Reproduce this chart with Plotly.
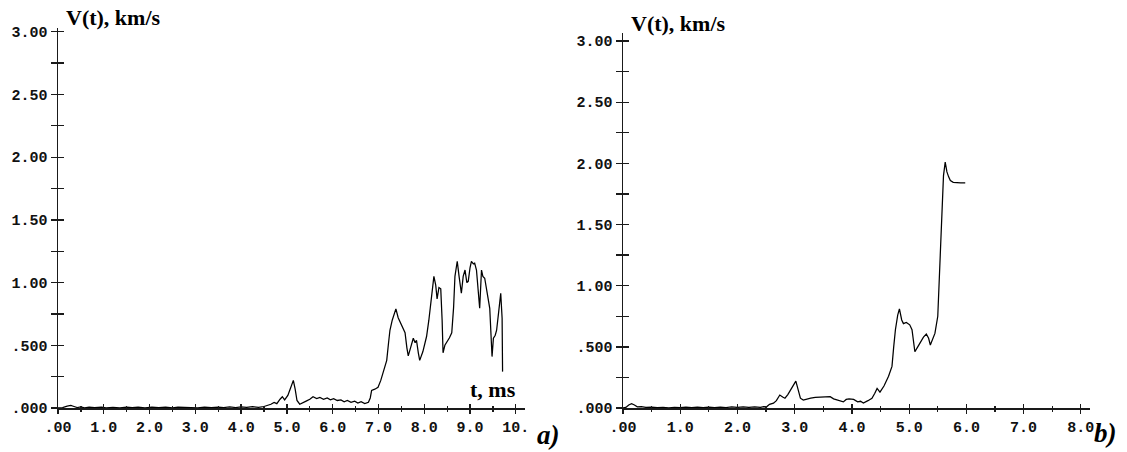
import plotly.graph_objects as go

# Panel a): velocity history V(t), t in ms, V in km/s
t_a = [0.00, 0.10, 0.20, 0.28, 0.35, 0.42, 0.50, 0.58, 0.68, 0.80,
       0.95, 1.05, 1.20, 1.35, 1.50, 1.62, 1.75, 1.90, 2.05, 2.20,
       2.35, 2.50, 2.62, 2.78, 2.90, 3.05, 3.20, 3.35, 3.50, 3.62,
       3.75, 3.88, 4.00, 4.12, 4.25, 4.38, 4.50, 4.58, 4.65, 4.72,
       4.78, 4.85, 4.90, 4.95, 5.02, 5.08, 5.14, 5.18, 5.22, 5.28,
       5.35, 5.42, 5.50, 5.57, 5.65, 5.72, 5.80, 5.88, 5.95, 6.02,
       6.10, 6.18, 6.25, 6.32, 6.40, 6.48, 6.55, 6.62, 6.70, 6.78,
       6.82, 6.85, 6.92, 6.99, 7.05, 7.12, 7.18, 7.22, 7.25, 7.30,
       7.38, 7.43, 7.48, 7.54, 7.58, 7.62, 7.65, 7.70, 7.76, 7.80,
       7.83, 7.87, 7.90, 7.97, 8.05, 8.10, 8.16, 8.21, 8.25, 8.28,
       8.32, 8.36, 8.39, 8.41, 8.45, 8.49, 8.55, 8.60, 8.64, 8.67,
       8.72, 8.76, 8.79, 8.81, 8.85, 8.89, 8.93, 8.96, 9.00, 9.03,
       9.07, 9.10, 9.14, 9.18, 9.21, 9.25, 9.28, 9.32, 9.36, 9.40,
       9.43, 9.48, 9.51, 9.55, 9.58, 9.62, 9.67, 9.70, 9.71]
v_a = [0.000, 0.003, 0.015, 0.020, 0.012, 0.004, 0.008, 0.002, 0.007, 0.003,
       0.006, 0.002, 0.005, 0.002, 0.007, 0.003, 0.006, 0.002, 0.006, 0.003,
       0.007, 0.002, 0.006, 0.003, 0.006, 0.002, 0.007, 0.003, 0.006, 0.004,
       0.008, 0.004, 0.008, 0.005, 0.010, 0.006, 0.012, 0.020, 0.030, 0.045,
       0.035, 0.070, 0.090, 0.065, 0.100, 0.160, 0.220, 0.150, 0.060, 0.030,
       0.040, 0.055, 0.070, 0.090, 0.075, 0.085, 0.070, 0.080, 0.065, 0.075,
       0.060, 0.065, 0.050, 0.060, 0.045, 0.055, 0.040, 0.050, 0.035, 0.045,
       0.080, 0.140, 0.150, 0.165, 0.220, 0.300, 0.380, 0.520, 0.620, 0.700,
       0.790, 0.720, 0.680, 0.640, 0.600, 0.480, 0.415, 0.480, 0.556, 0.520,
       0.540, 0.440, 0.380, 0.450, 0.570, 0.700, 0.890, 1.050, 0.980, 0.870,
       0.960, 0.950, 0.700, 0.440, 0.500, 0.520, 0.560, 0.600, 0.800, 1.050,
       1.170, 1.050, 0.960, 0.915, 1.050, 1.100, 1.000, 1.010, 1.120, 1.170,
       1.150, 1.155, 1.100, 0.950, 0.795, 1.100, 1.050, 1.035, 0.950, 0.850,
       0.795, 0.410, 0.556, 0.580, 0.620, 0.750, 0.915, 0.716, 0.290]

# Panel b)
t_b = [0.00, 0.05, 0.10, 0.15, 0.20, 0.25, 0.32, 0.40, 0.50, 0.60,
       0.70, 0.80, 0.90, 1.00, 1.10, 1.20, 1.30, 1.40, 1.50, 1.60,
       1.70, 1.80, 1.90, 2.00, 2.10, 2.20, 2.30, 2.40, 2.46, 2.51,
       2.56, 2.63, 2.68, 2.74, 2.79, 2.83, 2.88, 2.95, 3.02, 3.06,
       3.10, 3.15, 3.22, 3.28, 3.36, 3.45, 3.55, 3.62, 3.68, 3.75,
       3.80, 3.85, 3.90, 3.95, 4.03, 4.10, 4.15, 4.20, 4.28, 4.35,
       4.40, 4.44, 4.49, 4.56, 4.64, 4.70, 4.73, 4.76, 4.80, 4.83,
       4.87, 4.90, 4.95, 5.01, 5.05, 5.08, 5.10, 5.15, 5.19, 5.25,
       5.30, 5.34, 5.37, 5.42, 5.45, 5.50, 5.53, 5.57, 5.60, 5.63,
       5.66, 5.69, 5.72, 5.77, 5.83, 5.90, 5.98]
v_b = [0.000, 0.005, 0.025, 0.035, 0.025, 0.010, 0.012, 0.005, 0.008, 0.003,
       0.006, 0.002, 0.006, 0.003, 0.007, 0.003, 0.007, 0.004, 0.008, 0.004,
       0.008, 0.004, 0.009, 0.005, 0.009, 0.005, 0.010, 0.006, 0.012, 0.010,
       0.030, 0.040, 0.060, 0.106, 0.090, 0.080, 0.110, 0.160, 0.220, 0.150,
       0.080, 0.065, 0.070, 0.080, 0.087, 0.090, 0.092, 0.093, 0.075, 0.065,
       0.060, 0.050, 0.070, 0.075, 0.070, 0.050, 0.055, 0.040, 0.060, 0.080,
       0.120, 0.160, 0.130, 0.180, 0.260, 0.340, 0.500, 0.640, 0.760, 0.810,
       0.720, 0.690, 0.700, 0.680, 0.640, 0.520, 0.460, 0.500, 0.530, 0.580,
       0.605, 0.570, 0.515, 0.580, 0.610, 0.750, 1.130, 1.670, 1.900, 2.010,
       1.930, 1.890, 1.860, 1.845, 1.840, 1.840, 1.840]

# Axis ticks and labels
y_ticks = [0.0, 0.25, 0.5, 0.75, 1.0, 1.25, 1.5, 1.75, 2.0, 2.25, 2.5, 2.75, 3.0]
y_labels = [".000", "", ".500", "", "1.00", "", "1.50", "", "2.00", "", "2.50", "", "3.00"]
x_ticks_a = [0, 1, 2, 3, 4, 5, 6, 7, 8, 9, 10]
x_labels_a = [".00", "1.0", "2.0", "3.0", "4.0", "5.0", "6.0", "7.0", "8.0", "9.0", "10."]
x_ticks_b = [0, 1, 2, 3, 4, 5, 6, 7, 8]
x_labels_b = [".00", "1.0", "2.0", "3.0", "4.0", "5.0", "6.0", "7.0", "8.0"]

W, H = 1127, 452
INK = "#1a1a1a"
tick_font = dict(family="Liberation Mono", size=15, color="#111111", weight="bold")
serif_b = dict(family="Liberation Serif", size=22, color="#000000")
label_font = dict(family="Liberation Serif", size=27, color="#000000")

fig = go.Figure()
fig.add_trace(go.Scatter(x=t_a, y=v_a, mode="lines", xaxis="x", yaxis="y",
                         line=dict(color="#000000", width=1.25), showlegend=False,
                         hoverinfo="skip"))
fig.add_trace(go.Scatter(x=t_b, y=v_b, mode="lines", xaxis="x2", yaxis="y2",
                         line=dict(color="#000000", width=1.25), showlegend=False,
                         hoverinfo="skip"))
# single-point traces (draw nothing) so the overlay axes carrying the inner
# half of the cross-shaped ticks get their own subplot
fig.add_trace(go.Scatter(x=t_a[:1], y=v_a[:1], mode="lines", xaxis="x3", yaxis="y3",
                         showlegend=False, hoverinfo="skip"))
fig.add_trace(go.Scatter(x=t_b[:1], y=v_b[:1], mode="lines", xaxis="x4", yaxis="y4",
                         showlegend=False, hoverinfo="skip"))


def px_x(p):
    return p / W


def px_y(p):
    return 1 - p / H


# panel geometry (pixels): a) x 58..525, y 28..408 ; b) x 623..1090, y 33..408
xa_dom = [px_x(58), px_x(525)]
ya_dom = [px_y(408), px_y(28)]
xb_dom = [px_x(623), px_x(1090)]
yb_dom = [px_y(408), px_y(33)]
xa_rng = [0, 10.2]
ya_rng = [0, 3.03]
xb_rng = [0, 8.16]
yb_rng = [0, 3.066]


def xaxis(dom, rng, anchor, vals, labels, side, overlay=None):
    d = dict(domain=dom, range=rng, anchor=anchor, showgrid=False, zeroline=False,
             showline=True, linecolor=INK, linewidth=1.5, automargin=False,
             tickmode="array", tickvals=vals, ticktext=labels,
             ticks=side, ticklen=4, tickwidth=1.3, tickcolor=INK,
             minor=dict(dtick=0.5, tick0=0, ticks=side, ticklen=2, tickwidth=1.3,
                        tickcolor=INK, showgrid=False),
             tickfont=tick_font, fixedrange=True)
    if overlay:
        d.update(overlaying=overlay, showticklabels=False)
    return d


def yaxis(dom, rng, anchor, side, overlay=None):
    d = dict(domain=dom, range=rng, anchor=anchor, showgrid=False, zeroline=False,
             showline=True, linecolor=INK, linewidth=1.5, automargin=False,
             tickmode="array", tickvals=y_ticks, ticktext=y_labels,
             ticks=side, ticklen=6, tickwidth=1.3, tickcolor=INK,
             tickfont=tick_font, fixedrange=True)
    if overlay:
        d.update(overlaying=overlay, showticklabels=False)
    return d


fig.update_layout(
    width=W, height=H,
    margin=dict(l=0, r=0, t=0, b=0, autoexpand=False),
    paper_bgcolor="white", plot_bgcolor="rgba(0,0,0,0)",
    xaxis=xaxis(xa_dom, xa_rng, "y", x_ticks_a, x_labels_a, "outside"),
    yaxis=yaxis(ya_dom, ya_rng, "x", "outside"),
    xaxis2=xaxis(xb_dom, xb_rng, "y2", x_ticks_b, x_labels_b, "outside"),
    yaxis2=yaxis(yb_dom, yb_rng, "x2", "outside"),
    xaxis3=xaxis(xa_dom, xa_rng, "y", x_ticks_a, x_labels_a, "inside", overlay="x"),
    yaxis3=yaxis(ya_dom, ya_rng, "x", "inside", overlay="y"),
    xaxis4=xaxis(xb_dom, xb_rng, "y2", x_ticks_b, x_labels_b, "inside", overlay="x2"),
    yaxis4=yaxis(yb_dom, yb_rng, "x2", "inside", overlay="y2"),
)

annotations = [
    dict(text="<b>V(t), km/s</b>", x=px_x(64), y=px_y(17), xanchor="left", yanchor="middle",
         font=serif_b),
    dict(text="<b>V(t), km/s</b>", x=px_x(629), y=px_y(23), xanchor="left", yanchor="middle",
         font=serif_b),
    dict(text="<b>t, ms</b>", x=px_x(518), y=px_y(389), xanchor="right", yanchor="middle",
         font=serif_b),
    dict(text="<b><i>a)</i></b>", x=px_x(535), y=px_y(435), xanchor="left", yanchor="middle",
         font=label_font),
    dict(text="<b><i>b)</i></b>", x=px_x(1092), y=px_y(433), xanchor="left", yanchor="middle",
         font=label_font),
]
for a in annotations:
    a.update(xref="paper", yref="paper", showarrow=False)
fig.update_layout(annotations=annotations)

fig.write_html("out.html", config=dict(displayModeBar=False, staticPlot=True))
